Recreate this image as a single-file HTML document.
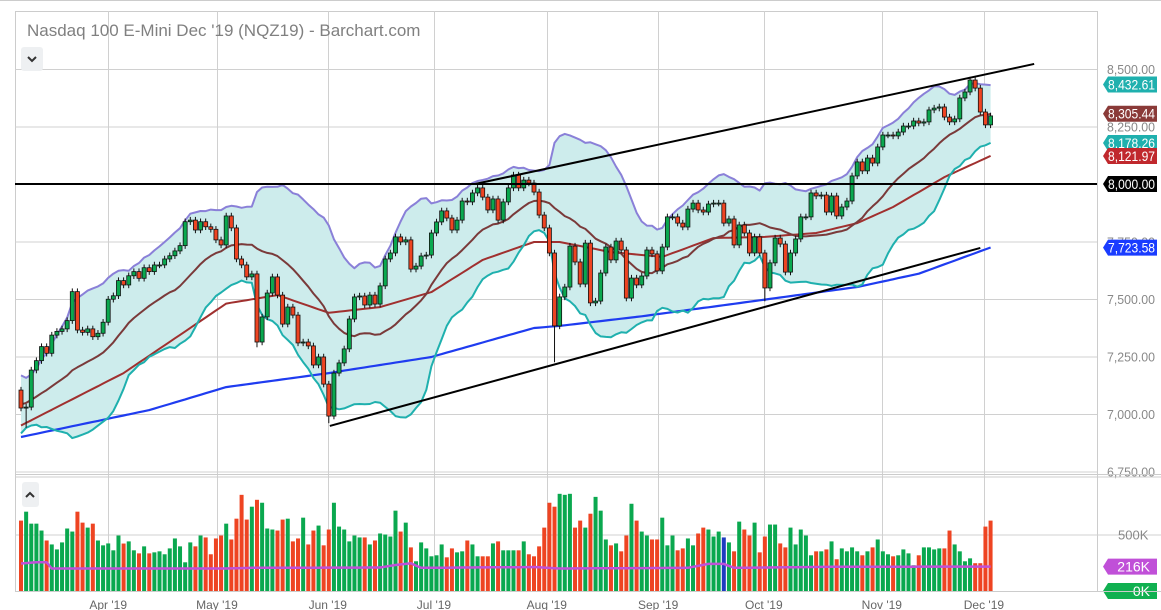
<!DOCTYPE html>
<html><head><meta charset="utf-8"><style>
html,body{margin:0;padding:0;background:#fff;}
svg{display:block;font-family:"Liberation Sans",sans-serif;}
</style></head><body>
<svg id="chart" width="1161" height="610" viewBox="0 0 1161 610" xmlns="http://www.w3.org/2000/svg">
<line x1="0" y1="0.5" x2="1161" y2="0.5" stroke="#ccc"/>
<rect x="15.5" y="11.5" width="1082" height="580" fill="none" stroke="#ccc"/>
<g id="grid"></g>
<g id="bands"></g>
<g id="lines"></g>
<g id="candles"></g>
<g id="trend"></g>
<g id="vol"></g>
<g id="axes"></g>
<line x1="15" y1="474.5" x2="1161" y2="474.5" stroke="#ccc"/>
<line x1="15" y1="477" x2="1161" y2="477" stroke="#ccc"/>
<line x1="15" y1="591.5" x2="1161" y2="591.5" stroke="#ccc"/>
<text x="27" y="36" font-size="17" fill="#808080">Nasdaq 100 E-Mini Dec '19 (NQZ19) - Barchart.com</text>
<g><rect x="21" y="47" width="22" height="24" rx="3" fill="#eef0f2"/><path d="M28 57 l4 4 l4 -4" fill="none" stroke="#333" stroke-width="2"/></g>
<g><rect x="22" y="482" width="17" height="25" rx="3" fill="#eef0f2"/><path d="M26 497 l4 -4 l4 4" fill="none" stroke="#333" stroke-width="2"/></g>
</svg>
<script>
const closes=[7026,7030,7191,7232,7293,7264,7343,7359,7370,7406,
7532,7365,7355,7370,7336,7351,7399,7499,7514,7580,
7561,7601,7619,7590,7636,7619,7648,7648,7674,7688,
7709,7732,7836,7843,7800,7836,7814,7803,7757,7735,
7861,7809,7674,7648,7596,7609,7313,7422,7526,7596,
7517,7391,7465,7430,7309,7313,7296,7213,7248,7130,
6991,7178,7222,7283,7413,7509,7513,7474,7517,7478,
7557,7674,7700,7770,7748,7757,7630,7643,7687,7691,
7787,7835,7883,7852,7800,7843,7926,7922,7961,7983,
7943,7887,7935,7843,7922,7983,8039,7983,8017,8004,
7965,7865,7809,7700,7383,7509,7552,7730,7661,7565,
7743,7483,7491,7613,7726,7670,7752,7713,7504,7591,
7561,7600,7713,7696,7622,7726,7857,7857,7830,7813,
7891,7917,7887,7878,7913,7917,7917,7830,7848,7735,
7822,7787,7700,7770,7700,7548,7657,7765,7739,7617,
7700,7761,7857,7857,7961,7948,7952,7878,7948,7861,
7900,7926,8035,8096,8057,8113,8091,8161,8213,8213,
8209,8226,8252,8252,8274,8265,8270,8322,8330,8335,
8291,8270,8283,8374,8400,8452,8417,8313,8257,8296];
const firstOpen=7104;
const preCloses=[6900,6930,6950,6990,7000,7010,7050,7060,7080,7090,7100,7110,7120,7110,7090,7100,7080,7050,6990];
const lowIdx=[1,46,60,104,145];
const lowVal=[6940,7290,6960,7225,7490];
const ma50Idx=[0,20,40,50,60,70,80,90,100,105,115,125,135,145,155,163,170,180,189];
const ma50Val=[6950,7178,7480,7517,7440,7465,7530,7670,7748,7748,7704,7683,7765,7770,7787,7830,7900,8030,8122];
const ma200Idx=[0,25,40,60,80,100,105,120,130,163,175,189];
const ma200Val=[6900,7017,7117,7178,7248,7374,7383,7422,7452,7552,7610,7724];
const volumes=[623,702,596,596,535,447,412,368,430,553,
526,702,605,561,596,447,404,421,360,491,420,
439,360,333,395,333,342,351,325,377,465,
395,254,430,395,491,474,325,465,491,596,
456,640,851,632,746,807,781,553,544,535,
632,640,439,465,649,412,535,579,404,544,
781,570,544,439,491,474,474,412,447,509,500,
482,711,526,605,386,263,430,377,307,316,
412,298,377,342,351,447,412,307,307,307,
421,439,360,360,360,360,
439,325,307,395,561,781,746,860,851,860,
561,623,561,684,833,711,456,404,421,351,
491,772,623,526,491,456,456,649,404,491,
360,377,465,404,509,561,544,482,526,474,
430,351,614,544,491,605,342,482,588,588,
421,386,561,412,544,491,316,351,351,368,
439,281,377,351,386,351,316,351,386,456,
351,325,307,316,368,333,228,316,386,386,
368,377,377,535,412,351,263,289,246,246,
570,623];
const blueVolIdx=137;
const avgIdx=[0,3,5,6,40,45,70,73,76,78,100,105,130,134,137,139,160,189];
const avgVal=[243,255,255,199,199,205,208,230,245,205,212,199,205,240,240,205,215,216];
const priceTicks=[8500,8250,8000,7750,7500,7250,7000,6750];
const monthLabels=["Apr '19","May '19","Jun '19","Jul '19","Aug '19","Sep '19","Oct '19","Nov '19","Dec '19"];
const monthIdx=[17,38.2,59.8,80.5,102.5,124.2,144.8,167.8,187.7];
const upperTrend=[[88.5,8000],[197.5,8522]];
const lowerTrend=[[60.2,6948],[187,7722]];
const tagLabels=["8,432.61","8,305.44","8,178.26","8,121.97","8,000.00","7,723.58"];
const tagPrices=[8432.61,8305.44,8178.26,8121.97,8000,7723.58];
const tagColors=["#1fb0ae","#8a3a38","#1fb0ae","#c0282d","#000","#1a3cff"];

const NS="http://www.w3.org/2000/svg";
const X=i=>21+i*5.13;
const Y=p=>184-(p-8000)*0.23;
const VY=v=>591-v/500*56.5;
function mk(tag,attrs,parent){const e=document.createElementNS(NS,tag);for(const k in attrs)e.setAttribute(k,attrs[k]);parent.appendChild(e);return e;}
const G=id=>document.getElementById(id);
function interp(idx,val,i){for(let k=0;k<idx.length-1;k++){if(i>=idx[k]&&i<=idx[k+1]){const t=(i-idx[k])/(idx[k+1]-idx[k]);return val[k]+t*(val[k+1]-val[k]);}}return val[val.length-1];}

const grid=G('grid');
priceTicks.forEach(p=>{const l=mk('line',{x1:15,x2:1097,y1:Y(p)+.5,y2:Y(p)+.5,stroke:'#d0d0d0'},grid);

});
monthIdx.forEach(i=>{const l=mk('line',{x1:Math.round(X(i))+.5,x2:Math.round(X(i))+.5,y1:11,y2:591,stroke:'#d0d0d0'},grid);

});
const vg=mk('line',{x1:15,x2:1161,y1:VY(500)+.5,y2:VY(500)+.5,stroke:'#d0d0d0'},grid);



const all=preCloses.concat(closes);
const up=[],mid=[],lo=[];
for(let i=0;i<closes.length;i++){const w=all.slice(i,i+20);const m=w.reduce((a,b)=>a+b,0)/20;const sd=Math.sqrt(w.reduce((a,b)=>a+(b-m)*(b-m),0)/20);mid.push(m);up.push(m+2*sd);lo.push(m-2*sd);}
const pts=a=>a.map((v,i)=>X(i).toFixed(1)+','+Y(v).toFixed(1));
const bands=G('bands');
const fill=mk('polygon',{points:pts(up).concat(pts(lo).reverse()).join(' '),fill:'#cdecec'},bands);


const lines=G('lines');
function pl(arr,color,w,name){const e=mk('polyline',{points:arr.join(' '),fill:'none',stroke:color,'stroke-width':w,'stroke-linejoin':'round'},lines);

}
const ma50=closes.map((c,i)=>interp(ma50Idx,ma50Val,i));
const ma200=closes.map((c,i)=>interp(ma200Idx,ma200Val,i));
pl(pts(ma200),'#1f3cf0',2.2,'ma200-line');
pl(pts(ma50),'#a0302f',2,'ma50-line');
pl(pts(up),'#8a80d8',2,'upper-band');
pl(pts(lo),'#1fb0ae',2,'lower-band');
pl(pts(mid),'#7a3a3a',2,'ma20-line');

const cg=G('candles');
closes.forEach((c,i)=>{const o=i===0?firstOpen:closes[i-1];const x=X(i);
let lw=lowIdx.indexOf(i)>=0?lowVal[lowIdx.indexOf(i)]:Math.min(o,c)-14;const hi=Math.max(o,c)+14;
const g=mk('g',{},cg);


mk('line',{x1:x,x2:x,y1:Y(hi),y2:Y(lw),stroke:'#111','stroke-width':1},g);
const top=Y(Math.max(o,c)),bot=Y(Math.min(o,c));
mk('rect',{x:x-2,y:top,width:4,height:Math.max(1,bot-top),fill:c>=o?'#0aa84f':'#ee4422',stroke:'#111','stroke-width':0.8},g);});

const tg=G('trend');
const h=mk('line',{x1:15,x2:1097,y1:184,y2:184,stroke:'#000','stroke-width':2},tg);


[upperTrend,lowerTrend].forEach((t,k)=>{const l=mk('line',{x1:X(t[0][0]),y1:Y(t[0][1]),x2:X(t[1][0]),y2:Y(t[1][1]),stroke:'#000','stroke-width':2},tg);

});

const vgp=G('vol');
volumes.forEach((v,i)=>{const o=i===0?firstOpen:closes[i-1];const col=i===blueVolIdx?'#1f3cc0':(i===volumes.length-1?'#ee4422':(closes[i]>=o?'#0aa84f':'#ee4422'));
const r=mk('rect',{x:X(i)-2,y:VY(v),width:4,height:591-VY(v),fill:col},vgp);

});
const avg=volumes.map((v,i)=>X(i).toFixed(1)+','+VY(interp(avgIdx,avgVal,i)).toFixed(1));
const al=mk('polyline',{points:avg.join(' '),fill:'none',stroke:'#c050d8','stroke-width':2.5},vgp);



const ax=G('axes');
priceTicks.forEach(p=>{const t=mk('text',{x:1107,y:Y(p)+5,'font-size':13,fill:'#888',textLength:48,lengthAdjust:'spacingAndGlyphs'},ax);t.textContent=p.toLocaleString('en-US',{minimumFractionDigits:2});

});
const t5=mk('text',{x:1118,y:VY(500)+5,'font-size':13,fill:'#888'},ax);t5.textContent='500K';


monthIdx.forEach((i,k)=>{const t=mk('text',{x:X(i),y:609,'font-size':12,fill:'#666','text-anchor':'middle'},ax);t.textContent=monthLabels[k];

});
function tag(yc,label,color,name){const g=mk('g',{},ax);


mk('path',{d:`M1103 ${yc} L1108 ${yc-8} H1157 V${yc+8} H1108 Z`,fill:color},g);
const attrs={x:1108,y:yc+5,'font-size':14,fill:'#fff'};
if(label.length>4){attrs.textLength=47;attrs.lengthAdjust='spacingAndGlyphs';}else{attrs.x=1150;attrs['text-anchor']='end';}
const t=mk('text',attrs,g);t.textContent=label;}
tagPrices.forEach((p,k)=>tag(Y(p),tagLabels[k],tagColors[k],'price-tag'));
tag(VY(216),'216K','#c050d8','volume-average-tag');
tag(591,'0K','#10b050','volume-zero-tag');
</script>
</body></html>
